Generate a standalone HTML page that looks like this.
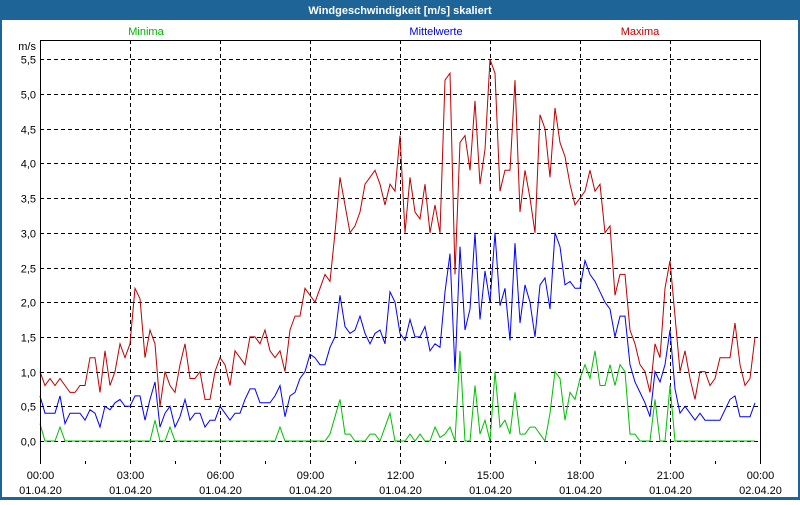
<!DOCTYPE html>
<html><head><meta charset="utf-8"><style>
body{margin:0;width:800px;height:500px;overflow:hidden;background:#fff;font-family:"Liberation Sans",sans-serif}
</style></head><body>
<svg id="c" width="800" height="500" xmlns="http://www.w3.org/2000/svg" font-family="Liberation Sans, sans-serif" font-size="11">
<rect x="0" y="0" width="800" height="500" fill="#1e6496"/>
<rect x="2" y="20" width="796" height="477" fill="#fff"/>
<text x="400" y="14" text-anchor="middle" fill="#fff" font-weight="bold">Windgeschwindigkeit [m/s] skaliert</text>
<text x="146" y="35" text-anchor="middle" fill="#00b000">Minima</text>
<text x="436" y="35" text-anchor="middle" fill="#0000e0">Mittelwerte</text>
<text x="640" y="35" text-anchor="middle" fill="#c00000">Maxima</text>
<text x="36" y="50" text-anchor="end" fill="#000">m/s</text>
<g id="grid"></g><g id="series"></g><g id="axes"></g>
</svg>
<script>
const yTicks=[0,0.5,1,1.5,2,2.5,3,3.5,4,4.5,5,5.5];
const xTimes=["00:00","03:00","06:00","09:00","12:00","15:00","18:00","21:00","00:00"];
const xDates=["01.04.20","01.04.20","01.04.20","01.04.20","01.04.20","01.04.20","01.04.20","01.04.20","02.04.20"];
const maxima=[1.0,0.8,0.9,0.8,0.9,0.8,0.7,0.7,0.8,0.8,1.2,1.2,0.7,1.3,0.8,1.0,1.4,1.2,1.4,2.2,2.05,1.2,1.6,1.4,0.5,1.0,0.8,0.7,1.1,1.4,0.9,0.9,1.0,0.6,0.6,1.0,1.2,1.1,0.8,1.3,1.2,1.1,1.5,1.5,1.4,1.6,1.3,1.2,1.3,1.0,1.6,1.8,1.8,2.2,2.1,2.0,2.2,2.4,2.3,3.0,3.8,3.4,3.0,3.1,3.3,3.7,3.8,3.9,3.7,3.4,3.7,3.6,
4.4,3.0,3.8,3.3,3.2,3.7,3.0,3.4,3.0,5.2,5.3,2.4,4.3,4.4,3.9,4.9,3.7,4.2,5.5,5.3,3.6,3.9,3.9,5.2,3.3,3.9,3.5,3.0,4.7,4.5,3.8,4.8,4.3,4.1,3.7,3.4,3.5,3.6,3.9,3.6,3.7,3.0,3.1,2.1,2.4,2.4,1.6,1.4,1.1,1.0,0.7,1.4,1.2,2.2,2.6,1.8,1.0,1.3,0.9,0.6,1.0,1.0,0.8,0.9,1.2,1.2,1.2,1.7,1.1,0.8,0.9,1.5];
const mittel=[0.65,0.4,0.4,0.4,0.65,0.25,0.4,0.4,0.4,0.3,0.45,0.4,0.2,0.5,0.45,0.55,0.6,0.5,0.5,0.65,0.65,0.3,0.6,0.85,0.2,0.4,0.5,0.2,0.35,0.6,0.3,0.4,0.4,0.2,0.3,0.3,0.5,0.4,0.3,0.4,0.4,0.6,0.75,0.75,0.55,0.55,0.55,0.65,0.8,0.35,0.65,0.7,0.9,1.0,1.25,1.2,1.1,1.1,1.35,1.5,2.1,1.65,1.55,1.6,1.8,1.55,1.4,1.55,1.6,1.4,2.15,2.0,
1.55,1.45,1.75,1.5,1.5,1.65,1.3,1.4,1.35,2.15,2.7,1.0,2.8,1.6,1.9,3.0,1.75,2.45,2.0,3.0,1.95,2.2,1.45,2.85,1.7,2.25,2.0,1.5,2.25,2.35,1.9,3.0,2.8,2.25,2.3,2.2,2.2,2.6,2.4,2.3,2.15,2.0,1.9,1.5,1.8,1.8,1.1,0.85,0.7,0.55,0.35,1.0,0.85,1.1,1.6,0.75,0.4,0.5,0.4,0.3,0.4,0.3,0.3,0.3,0.3,0.45,0.6,0.65,0.35,0.35,0.35,0.55];
const minima=[0.25,0,0,0,0.2,0,0,0,0,0,0,0,0,0,0,0,0,0,0,0,0,0,0,0.3,0,0,0.2,0,0,0,0,0,0,0,0,0,0,0,0,0,0,0,0,0,0,0,0,0,0.2,0,0,0,0,0,0,0,0,0,0.1,0.35,0.6,0.1,0.1,0,0,0,0.1,0.1,0,0.2,0.4,0,
0,0,0.1,0,0.1,0,0,0.2,0.05,0.1,0.2,0,1.3,0,0,0.8,0.1,0.3,0,1.0,0.2,0.3,0.1,0.7,0.1,0.1,0.2,0.2,0.1,0,0.4,1.0,0.9,0.3,0.7,0.6,0.9,1.1,0.9,1.3,0.8,0.8,1.1,0.8,1.1,1.0,0.1,0.1,0,0,0,0.6,0,0,0.8,0,0,0,0,0,0,0,0,0,0,0,0,0,0,0,0,0];
const X0=40,X1=760,Y0=441,PX=69.4;
const xs=i=>X0+i*5, ys=v=>Y0-v*PX;
const NS="http://www.w3.org/2000/svg";
function mk(tag,attrs,parent){const e=document.createElementNS(NS,tag);for(const k in attrs)e.setAttribute(k,attrs[k]);parent.appendChild(e);return e;}
const grid=document.getElementById('grid'),axes=document.getElementById('axes'),ser=document.getElementById('series');
yTicks.forEach(t=>{const y=Math.round(ys(t))+0.5;
 const l=mk('line',{x1:X0,x2:X1,y1:y,y2:y,stroke:'#000','stroke-dasharray':'4,3'},grid);
 
 
 const tx=mk('text',{x:36,y:y+4,'text-anchor':'end',fill:'#000'},axes);
 tx.textContent=t.toFixed(1).replace('.',',');
 
 
});
xTimes.forEach((t,i)=>{const x=X0+i*90+0.5;
 if(i>0&&i<xTimes.length-1){const l=mk('line',{x1:x,x2:x,y1:40,y2:461,stroke:'#000','stroke-dasharray':'4,3'},grid);
 
 }
 const a=mk('text',{x:x,y:479,'text-anchor':'middle',fill:'#000'},axes);a.textContent=t;
 
 
 const b=mk('text',{x:x,y:494,'text-anchor':'middle',fill:'#000'},axes);b.textContent=xDates[i];
 
 
});
for(let i=0;i<=16;i++){const x=X0+i*45+0.5;const l=mk('line',{x1:x,x2:x,y1:461,y2:464,stroke:'#000'},axes);
 
 }
const fr=mk('path',{d:'M40.5,464V40.5H760.5V462',fill:'none',stroke:'#000'},axes);


[[minima,'#00c000','minima-line'],[mittel,'#0000ff','mittelwerte-line'],[maxima,'#c00000','maxima-line']].forEach(([d,c,n])=>{
 const p=mk('polyline',{points:d.map((v,i)=>xs(i)+','+ys(v).toFixed(1)).join(' '),fill:'none',stroke:c,'stroke-width':1},ser);
 
 
});
</script>
</body></html>
